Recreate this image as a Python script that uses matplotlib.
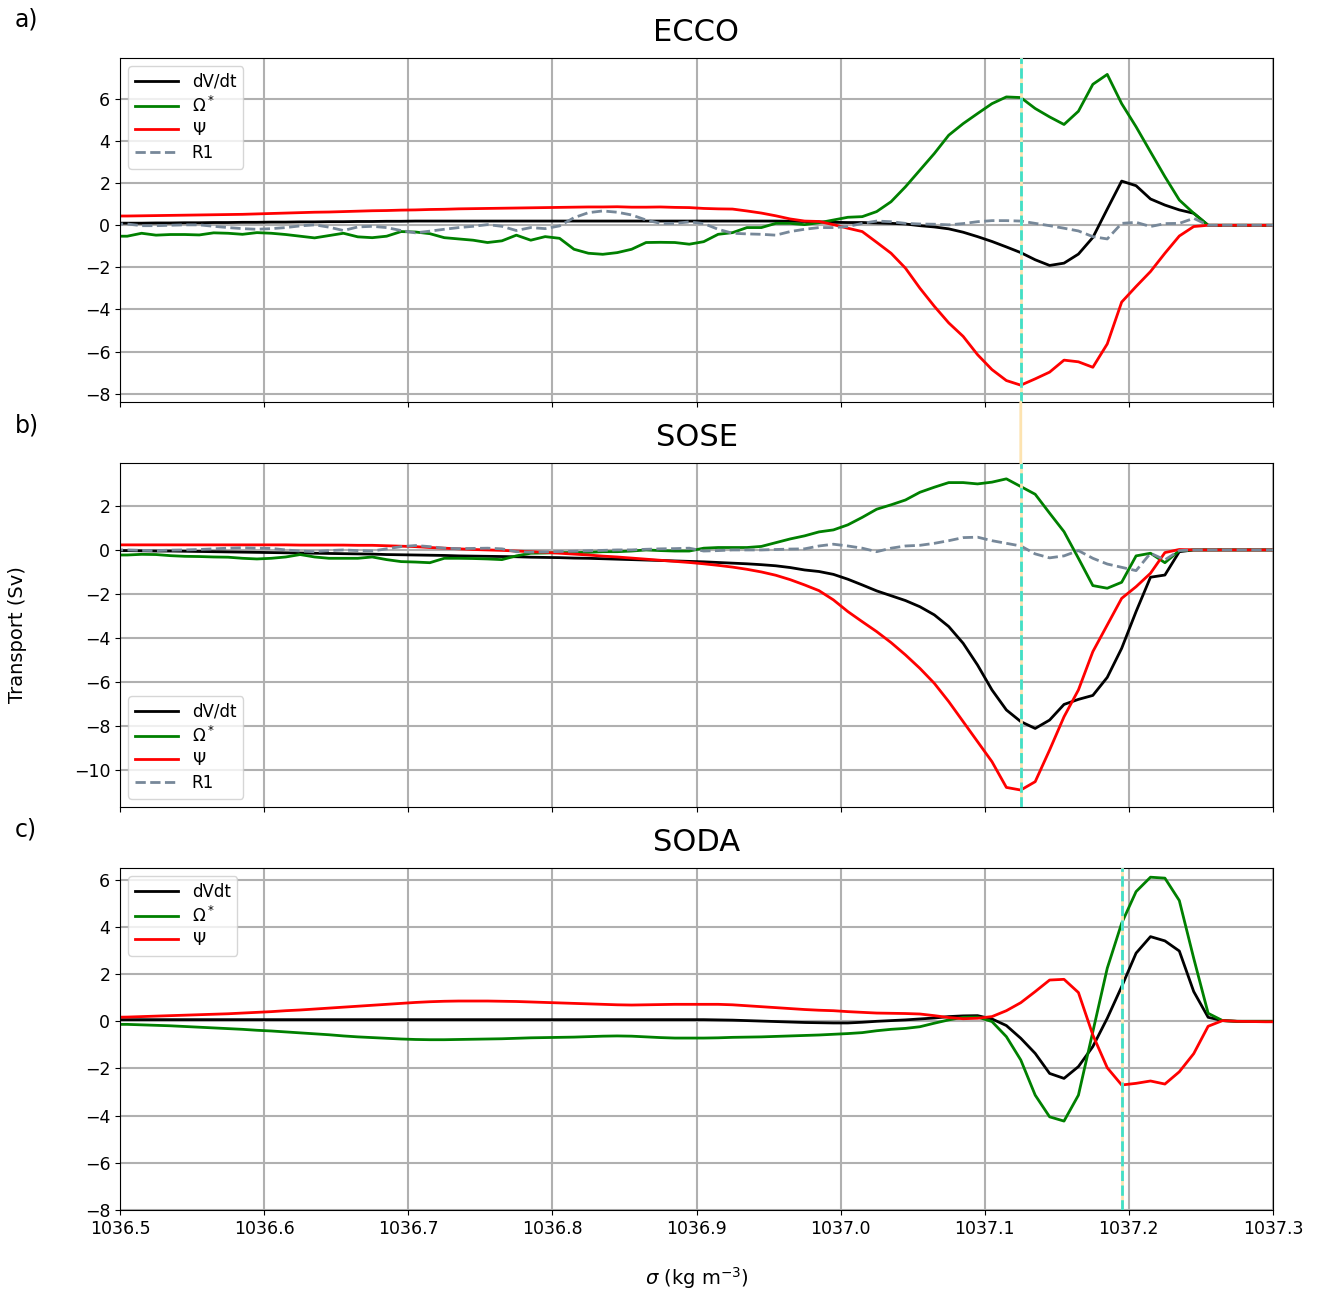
import numpy as np
import matplotlib
matplotlib.use("Agg")
import matplotlib.pyplot as plt
from matplotlib.patches import ConnectionPatch

# density bins (centres every 0.01, one extra point on each side of the axis)
sigma = np.round(1036.495 + 0.01 * np.arange(82), 3)

# ---------------- ECCO ----------------
ecco_dvdt = [0.10,
    0.10, 0.10, 0.11, 0.11, 0.12, 0.12, 0.13, 0.13, 0.14, 0.14,
    0.15, 0.15, 0.16, 0.16, 0.17, 0.17, 0.18, 0.18, 0.19, 0.19,
    0.20, 0.20, 0.20, 0.20, 0.20, 0.20, 0.20, 0.20, 0.20, 0.20,
    0.20, 0.20, 0.20, 0.20, 0.20, 0.20, 0.20, 0.20, 0.20, 0.20,
    0.20, 0.20, 0.20, 0.20, 0.20, 0.20, 0.19, 0.18, 0.16, 0.14,
    0.13, 0.13, 0.11, 0.09, 0.06, -0.02, -0.08, -0.17, -0.33, -0.54,
    -0.77, -1.03, -1.30, -1.64, -1.91, -1.80, -1.37, -0.58, 0.77, 2.10,
    1.88, 1.25, 0.96, 0.73, 0.57, 0.0, 0.0, 0.0, 0.0, 0.0,
    0.0]
ecco_omega = [-0.52,
    -0.52, -0.38, -0.47, -0.44, -0.44, -0.46, -0.36, -0.38, -0.43, -0.35,
    -0.38, -0.44, -0.52, -0.60, -0.49, -0.38, -0.55, -0.59, -0.52, -0.30,
    -0.32, -0.40, -0.59, -0.65, -0.71, -0.82, -0.74, -0.47, -0.71, -0.54,
    -0.62, -1.14, -1.33, -1.38, -1.30, -1.14, -0.82, -0.81, -0.82, -0.90,
    -0.78, -0.43, -0.35, -0.11, -0.11, 0.09, 0.09, 0.03, 0.12, 0.25,
    0.38, 0.41, 0.65, 1.12, 1.83, 2.62, 3.41, 4.28, 4.83, 5.31,
    5.78, 6.10, 6.07, 5.55, 5.15, 4.79, 5.42, 6.70, 7.17, 5.78,
    4.68, 3.49, 2.31, 1.20, 0.57, 0.0, 0.0, 0.0, 0.0, 0.0,
    0.0]
ecco_psi = [0.44,
    0.44, 0.45, 0.46, 0.47, 0.48, 0.49, 0.50, 0.51, 0.52, 0.54,
    0.56, 0.58, 0.60, 0.62, 0.63, 0.65, 0.67, 0.69, 0.70, 0.72,
    0.73, 0.75, 0.76, 0.78, 0.79, 0.80, 0.81, 0.82, 0.83, 0.84,
    0.85, 0.86, 0.87, 0.87, 0.88, 0.86, 0.86, 0.87, 0.85, 0.84,
    0.80, 0.78, 0.77, 0.68, 0.58, 0.45, 0.30, 0.20, 0.18, 0.03,
    -0.14, -0.30, -0.81, -1.33, -2.04, -2.99, -3.85, -4.64, -5.28, -6.15,
    -6.86, -7.38, -7.60, -7.30, -6.98, -6.41, -6.49, -6.75, -5.64, -3.65,
    -2.91, -2.20, -1.33, -0.51, -0.06, 0.0, 0.0, 0.0, 0.0, 0.0,
    0.0]
ecco_r1 = [0.06,
    0.06, -0.02, -0.02, 0.0, 0.02, 0.02, -0.05, -0.11, -0.16, -0.19,
    -0.16, -0.11, -0.03, 0.02, -0.09, -0.25, -0.08, -0.05, -0.11, -0.25,
    -0.36, -0.28, -0.19, -0.11, -0.05, 0.03, -0.05, -0.25, -0.11, -0.16,
    -0.03, 0.36, 0.60, 0.68, 0.62, 0.49, 0.25, 0.09, 0.09, 0.16,
    0.08, -0.19, -0.38, -0.41, -0.43, -0.47, -0.30, -0.19, -0.11, -0.11,
    -0.06, 0.09, 0.20, 0.17, 0.09, 0.06, 0.05, 0.02, 0.08, 0.17,
    0.22, 0.22, 0.20, 0.09, -0.02, -0.14, -0.27, -0.54, -0.65, 0.09,
    0.14, -0.06, 0.08, 0.09, 0.33, 0.0, 0.0, 0.0, 0.0, 0.0,
    0.0]

# ---------------- SOSE ----------------
sose_dvdt = [-0.03,
    -0.03, -0.04, -0.05, -0.05, -0.06, -0.07, -0.08, -0.09, -0.10, -0.11,
    -0.12, -0.13, -0.14, -0.15, -0.16, -0.17, -0.18, -0.19, -0.21, -0.22,
    -0.23, -0.24, -0.25, -0.27, -0.28, -0.29, -0.30, -0.31, -0.33, -0.34,
    -0.35, -0.37, -0.38, -0.40, -0.42, -0.44, -0.46, -0.48, -0.50, -0.52,
    -0.54, -0.57, -0.60, -0.63, -0.67, -0.72, -0.80, -0.91, -0.98, -1.11,
    -1.33, -1.59, -1.86, -2.08, -2.30, -2.58, -2.95, -3.48, -4.24, -5.23,
    -6.36, -7.27, -7.80, -8.11, -7.73, -7.02, -6.79, -6.61, -5.79, -4.47,
    -2.80, -1.24, -1.14, -0.08, 0.0, 0.0, 0.0, 0.0, 0.0, 0.0,
    0.0]
sose_omega = [-0.23,
    -0.23, -0.20, -0.21, -0.26, -0.29, -0.30, -0.32, -0.33, -0.38, -0.41,
    -0.38, -0.32, -0.21, -0.32, -0.38, -0.38, -0.38, -0.32, -0.44, -0.53,
    -0.55, -0.58, -0.38, -0.38, -0.39, -0.41, -0.44, -0.27, -0.15, -0.14,
    -0.12, -0.12, -0.11, -0.08, -0.08, -0.05, 0.0, -0.03, -0.05, -0.05,
    0.08, 0.11, 0.11, 0.11, 0.16, 0.33, 0.50, 0.64, 0.82, 0.91,
    1.14, 1.48, 1.85, 2.05, 2.27, 2.62, 2.85, 3.06, 3.06, 3.00,
    3.08, 3.23, 2.88, 2.53, 1.67, 0.83, -0.38, -1.62, -1.74, -1.47,
    -0.27, -0.15, -0.58, -0.03, 0.0, 0.0, 0.0, 0.0, 0.0, 0.0,
    0.0]
sose_psi = [0.23,
    0.23, 0.23, 0.23, 0.23, 0.23, 0.23, 0.23, 0.23, 0.23, 0.23,
    0.23, 0.23, 0.22, 0.22, 0.22, 0.22, 0.21, 0.21, 0.19, 0.17,
    0.15, 0.11, 0.08, 0.05, 0.02, 0.0, -0.02, -0.05, -0.08, -0.11,
    -0.15, -0.19, -0.23, -0.28, -0.32, -0.37, -0.42, -0.47, -0.52, -0.57,
    -0.63, -0.70, -0.78, -0.88, -1.00, -1.15, -1.35, -1.59, -1.85, -2.27,
    -2.80, -3.26, -3.71, -4.21, -4.77, -5.38, -6.06, -6.89, -7.80, -8.71,
    -9.62, -10.79, -10.91, -10.53, -9.09, -7.58, -6.36, -4.62, -3.41, -2.20,
    -1.67, -1.06, -0.12, 0.02, 0.0, 0.0, 0.0, 0.0, 0.0, 0.0,
    0.0]
sose_r1 = [0.0,
    0.0, -0.02, -0.03, -0.01, 0.0, 0.02, 0.05, 0.08, 0.10, 0.08,
    0.07, 0.0, -0.05, -0.08, -0.03, 0.0, -0.03, -0.05, 0.05, 0.15,
    0.20, 0.15, 0.08, 0.06, 0.07, 0.08, 0.05, -0.08, -0.10, -0.09,
    -0.07, -0.06, -0.04, -0.02, 0.0, 0.0, 0.03, 0.05, 0.06, 0.08,
    -0.05, -0.03, 0.0, 0.0, 0.0, 0.02, 0.04, 0.05, 0.18, 0.26,
    0.18, 0.08, -0.08, 0.08, 0.18, 0.21, 0.30, 0.42, 0.56, 0.58,
    0.42, 0.30, 0.18, -0.18, -0.36, -0.27, -0.03, -0.38, -0.64, -0.79,
    -0.94, -0.15, -0.45, -0.03, 0.0, 0.0, 0.0, 0.0, 0.0, 0.0,
    0.0]

# ---------------- SODA ----------------
soda_dvdt = [0.07,
    0.07, 0.07, 0.07, 0.07, 0.07, 0.07, 0.07, 0.07, 0.07, 0.07,
    0.07, 0.07, 0.07, 0.07, 0.07, 0.07, 0.07, 0.07, 0.07, 0.07,
    0.07, 0.07, 0.07, 0.07, 0.07, 0.07, 0.07, 0.07, 0.07, 0.07,
    0.07, 0.07, 0.07, 0.07, 0.07, 0.07, 0.07, 0.07, 0.07, 0.07,
    0.07, 0.06, 0.05, 0.03, 0.01, -0.01, -0.03, -0.05, -0.06, -0.07,
    -0.07, -0.04, 0.0, 0.03, 0.06, 0.10, 0.14, 0.20, 0.23, 0.24,
    0.10, -0.18, -0.72, -1.36, -2.21, -2.42, -1.92, -1.07, 0.13, 1.47,
    2.89, 3.59, 3.41, 2.98, 1.26, 0.17, 0.03, 0.0, 0.0, 0.0,
    0.0]
soda_omega = [-0.13,
    -0.13, -0.15, -0.17, -0.19, -0.22, -0.25, -0.28, -0.31, -0.34, -0.38,
    -0.41, -0.45, -0.49, -0.53, -0.57, -0.62, -0.66, -0.69, -0.72, -0.75,
    -0.77, -0.78, -0.78, -0.77, -0.76, -0.75, -0.74, -0.72, -0.70, -0.69,
    -0.68, -0.67, -0.65, -0.63, -0.62, -0.63, -0.66, -0.69, -0.71, -0.71,
    -0.71, -0.70, -0.68, -0.67, -0.66, -0.64, -0.62, -0.60, -0.58, -0.55,
    -0.52, -0.48, -0.40, -0.34, -0.30, -0.23, -0.08, 0.06, 0.17, 0.18,
    -0.01, -0.65, -1.64, -3.13, -4.05, -4.23, -3.13, -0.44, 2.25, 4.16,
    5.50, 6.11, 6.07, 5.12, 2.67, 0.34, 0.03, 0.0, 0.0, 0.0,
    0.0]
soda_psi = [0.17,
    0.18, 0.20, 0.22, 0.24, 0.26, 0.28, 0.30, 0.32, 0.35, 0.38,
    0.41, 0.45, 0.48, 0.52, 0.56, 0.60, 0.64, 0.68, 0.72, 0.76,
    0.80, 0.83, 0.85, 0.86, 0.86, 0.86, 0.85, 0.84, 0.82, 0.80,
    0.78, 0.76, 0.74, 0.72, 0.70, 0.69, 0.70, 0.71, 0.72, 0.72,
    0.72, 0.72, 0.70, 0.66, 0.62, 0.58, 0.54, 0.50, 0.47, 0.45,
    0.41, 0.38, 0.35, 0.34, 0.33, 0.31, 0.24, 0.16, 0.11, 0.13,
    0.20, 0.45, 0.79, 1.26, 1.75, 1.78, 1.22, -0.58, -1.97, -2.70,
    -2.63, -2.53, -2.66, -2.14, -1.37, -0.21, 0.03, 0.0, -0.01, -0.02,
    -0.02]

titles = ["ECCO", "SOSE", "SODA"]
panel_tags = ["a)", "b)", "c)"]
marker_sigma = [1037.125, 1037.125, 1037.195]
x_ticks = [1036.5, 1036.6, 1036.7, 1036.8, 1036.9, 1037.0, 1037.1, 1037.2, 1037.3]
y_ticks = [np.arange(-8, 7, 2), np.arange(-10, 3, 2), np.arange(-8, 7, 2)]
y_lims = [(-8.4, 7.95), (-11.68, 3.95), (-8, 6.5)]

fig = plt.figure(figsize=(13.19, 12.92), dpi=100)
W, H = 1319.0, 1292.0
boxes = [(58, 402), (463, 807), (868, 1210)]  # top / bottom in pixels
axes = []
for top, bot in boxes:
    ax = fig.add_axes([120 / W, 1 - bot / H, (1273 - 120) / W, (bot - top) / H])
    axes.append(ax)

datasets = [
    (ecco_dvdt, ecco_omega, ecco_psi, ecco_r1, "dV/dt"),
    (sose_dvdt, sose_omega, sose_psi, sose_r1, "dV/dt"),
    (soda_dvdt, soda_omega, soda_psi, None, "dVdt"),
]

for i, ax in enumerate(axes):
    dvdt, omega, psi, r1, dlabel = datasets[i]
    ax.plot(sigma, dvdt, color="black", lw=2, label=dlabel)
    ax.plot(sigma, omega, color="green", lw=2, label=r"$\Omega^*$")
    ax.plot(sigma, psi, color="red", lw=2, label=r"$\Psi$")
    if r1 is not None:
        ax.plot(sigma, r1, color="lightslategray", lw=2, ls="--", label="R1")
    ax.axvline(marker_sigma[i], color="#fde3b0", lw=2, zorder=4)
    ax.axvline(marker_sigma[i], color="#40e0c8", lw=2, ls="--", zorder=5)
    ax.set_xlim(1036.5, 1037.3)
    ax.set_ylim(*y_lims[i])
    ax.set_xticks(x_ticks)
    ax.set_yticks(y_ticks[i])
    ax.set_yticklabels([f"{v:d}".replace("-", "\u2212") for v in y_ticks[i]])
    ax.tick_params(labelsize=12.5)
    ax.grid(True, color="#b0b0b0", lw=1.5)
    ax.set_axisbelow(True)
    ax.set_title(titles[i], fontsize=22, pad=12)
    if i < 2:
        ax.set_xticklabels([])
    else:
        ax.set_xticklabels([f"{v:.1f}" for v in x_ticks])
    loc = "lower left" if i == 1 else "upper left"
    ax.legend(loc=loc, fontsize=12, handlelength=2.6, labelspacing=0.3,
              framealpha=0.8)
    fig.text(15 / W, 1 - (20 + boxes[i][0] - 58) / H, panel_tags[i],
             fontsize=17, va="center", ha="left")

# faint connector between the first two panels
con = ConnectionPatch(xyA=(marker_sigma[0], y_lims[0][0]), coordsA=axes[0].transData,
                      xyB=(marker_sigma[1], y_lims[1][1]), coordsB=axes[1].transData,
                      color="#fde3b0", lw=2)
fig.add_artist(con)

fig.text(18 / W, 1 - 635 / H, "Transport (Sv)", rotation=90, fontsize=14,
         ha="center", va="center")
fig.text(697 / W, 1 - 1278 / H, r"$\sigma$ (kg m$^{-3}$)", fontsize=14,
         ha="center", va="center")

fig.savefig("out.png", dpi=100)
